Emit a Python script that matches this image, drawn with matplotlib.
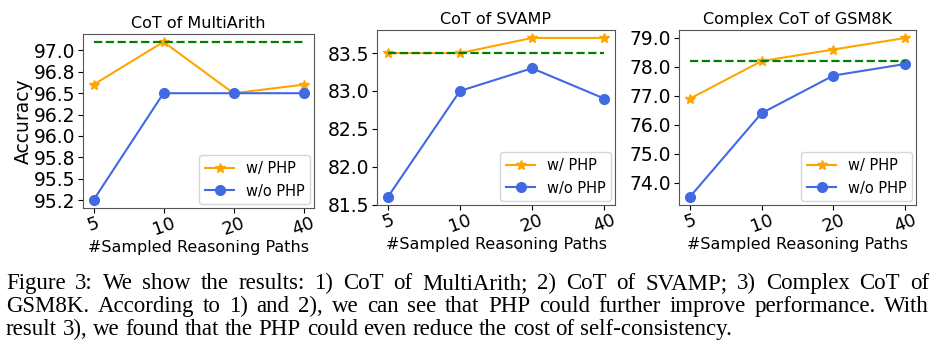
import matplotlib
matplotlib.use("Agg")
import matplotlib.pyplot as plt
from matplotlib.ticker import FormatStrFormatter, MultipleLocator

# x categories (number of sampled reasoning paths)
paths = ["5", "10", "20", "40"]

# CoT of MultiArith
arith_php = [96.6, 97.1, 96.5, 96.6]
arith_nophp = [95.25, 96.5, 96.5, 96.5]
arith_ref = 97.1

# CoT of SVAMP
svamp_php = [83.5, 83.5, 83.7, 83.7]
svamp_nophp = [81.6, 83.0, 83.3, 82.9]
svamp_ref = 83.5

# Complex CoT of GSM8K
gsm_php = [76.9, 78.2, 78.6, 79.0]
gsm_nophp = [73.5, 76.4, 77.7, 78.1]
gsm_ref = 78.2

titles = ["CoT of MultiArith", "CoT of SVAMP", "Complex CoT of GSM8K"]
ytick_steps = [0.25, 0.5, 1.0]

caption_lines = [
    "Figure 3: We show the results: 1) CoT of MultiArith; 2) CoT of SVAMP; 3) Complex CoT of",
    "GSM8K. According to 1) and 2), we can see that PHP could further improve performance. With",
    "result 3), we found that the PHP could even reduce the cost of self-consistency.",
]

W, H = 936, 355
fig = plt.figure(figsize=(W / 100, H / 100), dpi=100)

# axes boxes in pixels: left, top, right, bottom
boxes = [(83, 34, 314, 208), (377, 30, 615, 205), (679, 30, 916, 205)]
panels = [
    (arith_php, arith_nophp, arith_ref),
    (svamp_php, svamp_nophp, svamp_ref),
    (gsm_php, gsm_nophp, gsm_ref),
]

x = list(range(len(paths)))
for i, ((l, t, r, b), (php, nophp, ref)) in enumerate(zip(boxes, panels)):
    ax = fig.add_axes([l / W, 1 - b / H, (r - l) / W, (b - t) / H])
    ax.plot(x, php, color="orange", marker="*", markersize=7, linewidth=1.5, label="w/ PHP")
    ax.plot(x, nophp, color="royalblue", marker="o", markersize=7, linewidth=1.5, label="w/o PHP")
    ax.hlines(ref, x[0], x[-1], colors="green", linestyles="--", linewidth=1.6)
    ax.set_xticks(x)
    ax.set_xticklabels(paths, rotation=20, fontsize=13)
    ax.yaxis.set_major_locator(MultipleLocator(ytick_steps[i]))
    ax.yaxis.set_major_formatter(FormatStrFormatter("%.1f"))
    ax.tick_params(axis="y", labelsize=13.5, pad=2)
    ax.tick_params(axis="x", pad=1)
    ax.set_title(titles[i], fontsize=11.5, pad=4)
    ax.set_xlabel("#Sampled Reasoning Paths", fontsize=11.5, labelpad=1)
    ax.legend(loc="lower right", fontsize=10.5, borderaxespad=0.25)
    for s in ax.spines.values():
        s.set_color("#555555")
    if i == 0:
        ax.set_ylabel("Accuracy", fontsize=13.5, labelpad=1)

# caption, justified like the paper
renderer = fig.canvas.get_renderer()
cap_size = 16.5
x0, x1 = 6, 929
baselines = [289, 312, 335]
for j, (line, yy) in enumerate(zip(caption_lines, baselines)):
    words = line.split(" ")
    texts = [fig.text(0, 1 - yy / H, w, fontsize=cap_size, family="Liberation Serif",
                      va="baseline", ha="left") for w in words]
    widths = [t.get_window_extent(renderer).width for t in texts]
    if j < len(caption_lines) - 1:
        gap = (x1 - x0 - sum(widths)) / (len(words) - 1)
    else:
        sp = fig.text(0, 0, "a a", fontsize=cap_size, family="Liberation Serif")
        sp2 = fig.text(0, 0, "aa", fontsize=cap_size, family="Liberation Serif")
        gap = sp.get_window_extent(renderer).width - sp2.get_window_extent(renderer).width
        sp.remove()
        sp2.remove()
    pos = x0
    for t, w in zip(texts, widths):
        t.set_x(pos / W)
        pos += w + gap

fig.savefig("out.png", dpi=100)
